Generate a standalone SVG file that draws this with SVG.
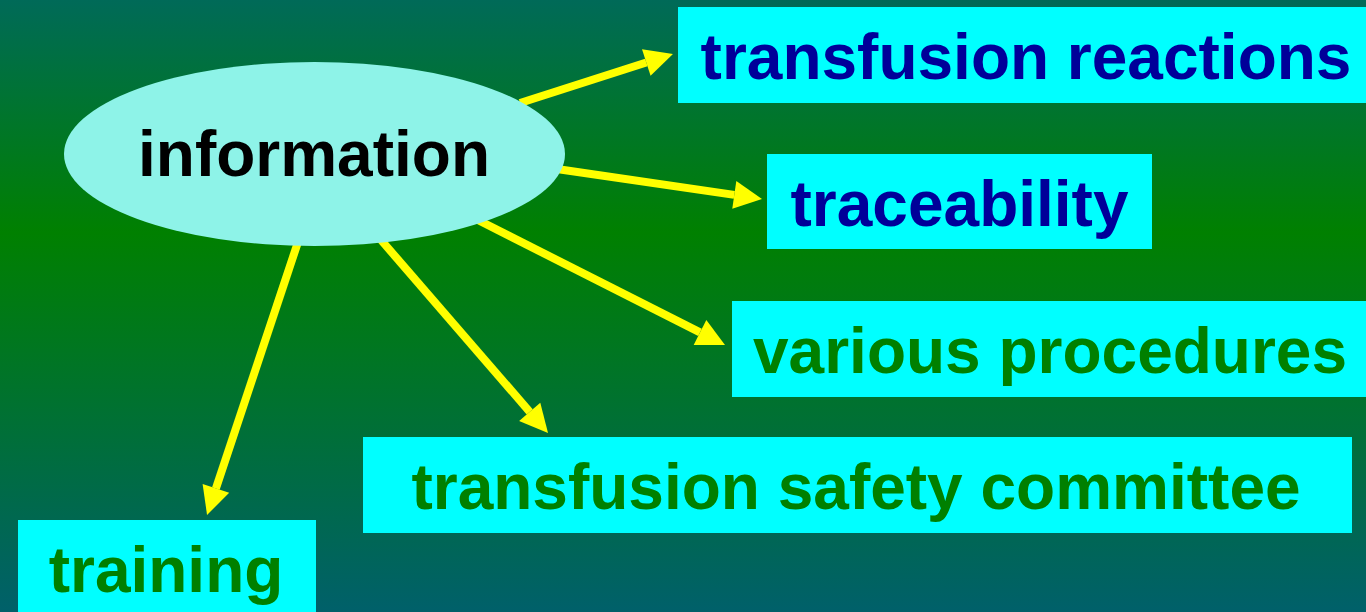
<svg xmlns="http://www.w3.org/2000/svg" width="1366" height="612" viewBox="0 0 1366 612">
  <defs>
    <linearGradient id="bg" x1="0" y1="0" x2="0" y2="1">
      <stop offset="0" stop-color="#006a58"/>
      <stop offset="0.38" stop-color="#008000"/>
      <stop offset="1" stop-color="#00606a"/>
    </linearGradient>
    <marker id="head" markerUnits="userSpaceOnUse" markerWidth="28" markerHeight="28" refX="0" refY="14" orient="auto" overflow="visible">
      <path d="M0,0 L28,14 L0,28 Z" fill="#ffff00"/>
    </marker>
  </defs>
  <style>
    .box { fill: #00ffff; }
    .lbl { font-family: "Liberation Sans", Arial, sans-serif; font-weight: bold; font-size: 64px; text-anchor: middle; }
    .blue { fill: #000099; }
    .green { fill: #008000; }
    .arrow { stroke: #ffff00; stroke-width: 8; fill: none; marker-end: url(#head); }
  </style>

  <rect x="0" y="0" width="1366" height="612" fill="url(#bg)"/>

  <g id="connectors">
    <line class="arrow" x1="520" y1="103" x2="646.3" y2="62.5"/>
    <line class="arrow" x1="550" y1="168" x2="734.3" y2="194.9"/>
    <line class="arrow" x1="470" y1="216" x2="700" y2="332.4"/>
    <line class="arrow" x1="375" y1="233" x2="529.7" y2="411.8"/>
    <line class="arrow" x1="300" y1="236" x2="215.9" y2="488.4"/>
  </g>

  <g id="information">
    <ellipse cx="314.5" cy="154" rx="250.5" ry="92" fill="#8ef3e8"/>
    <text class="lbl" x="314" y="176" fill="#000000">information</text>
  </g>

  <g id="transfusion-reactions">
    <rect class="box" x="678" y="7" width="688" height="96"/>
    <text class="lbl blue" x="1026" y="79">transfusion reactions</text>
  </g>

  <g id="traceability">
    <rect class="box" x="767" y="154" width="385" height="95"/>
    <text class="lbl blue" x="959.5" y="226">traceability</text>
  </g>

  <g id="various-procedures">
    <rect class="box" x="732" y="301" width="634" height="96"/>
    <text class="lbl green" x="1050" y="373">various procedures</text>
  </g>

  <g id="transfusion-safety-committee">
    <rect class="box" x="363" y="437" width="989" height="96"/>
    <text class="lbl green" x="856" y="509">transfusion safety committee</text>
  </g>

  <g id="training">
    <rect class="box" x="18" y="520" width="298" height="92"/>
    <text class="lbl green" x="166" y="592">training</text>
  </g>
</svg>
